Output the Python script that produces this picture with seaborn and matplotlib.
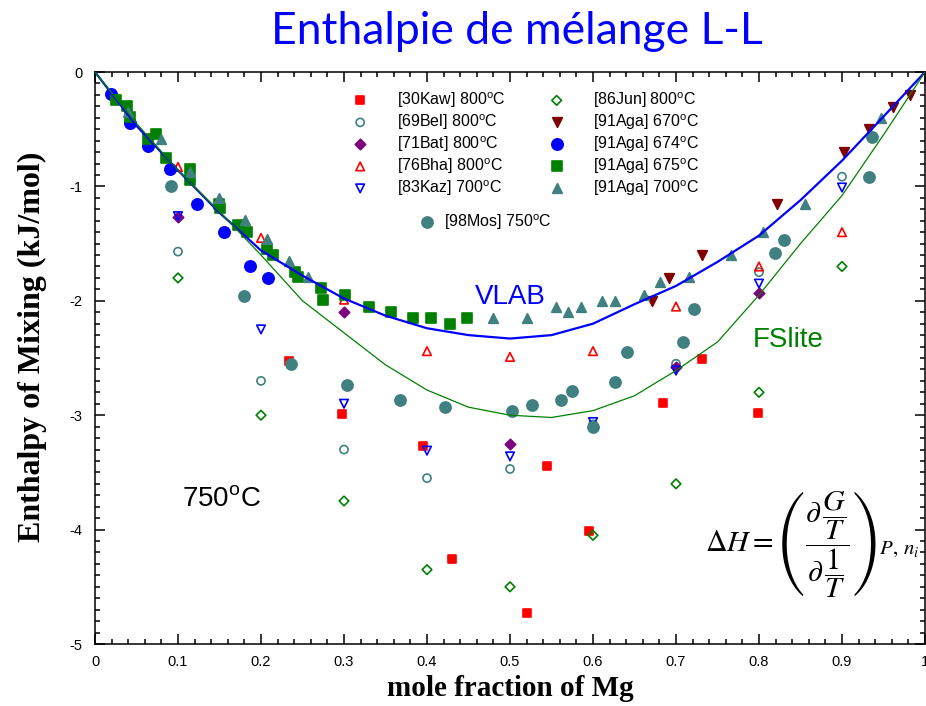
import matplotlib
matplotlib.use('Agg')
import matplotlib.pyplot as plt
import seaborn as sns
from matplotlib.ticker import MultipleLocator
from matplotlib.font_manager import FontProperties

# %% data (x = mole fraction Mg, y = kJ/mol)
kaw_x = [0.234, 0.298, 0.395, 0.43, 0.52, 0.545, 0.595, 0.684, 0.731, 0.799]
kaw_y = [-2.53, -2.99, -3.27, -4.26, -4.73, -3.44, -4.01, -2.89, -2.51, -2.98]
bel_x = [0.1, 0.2, 0.3, 0.4, 0.5, 0.6, 0.7, 0.8, 0.9]
bel_y = [-1.57, -2.70, -3.30, -3.55, -3.47, -3.08, -2.55, -1.75, -0.915]
bat_x = [0.1, 0.3, 0.5, 0.6, 0.7, 0.8]
bat_y = [-1.27, -2.10, -3.25, -3.10, -2.58, -1.93]
bha_x = [0.1, 0.2, 0.3, 0.4, 0.5, 0.6, 0.7, 0.8, 0.9]
bha_y = [-0.83, -1.45, -1.99, -2.44, -2.49, -2.44, -2.05, -1.70, -1.40]
kaz_x = [0.1, 0.2, 0.3, 0.4, 0.5, 0.6, 0.7, 0.8, 0.9]
kaz_y = [-1.26, -2.25, -2.90, -3.31, -3.36, -3.06, -2.61, -1.85, -1.01]
jun_x = [0.1, 0.2, 0.3, 0.4, 0.5, 0.6, 0.7, 0.8, 0.9]
jun_y = [-1.80, -3.0, -3.75, -4.35, -4.50, -4.05, -3.60, -2.80, -1.70]
aga670_x = [0.671, 0.691, 0.731, 0.822, 0.903, 0.932, 0.962, 0.982]
aga670_y = [-2.0, -1.80, -1.60, -1.15, -0.70, -0.50, -0.31, -0.20]
aga674_x = [0.019, 0.042, 0.064, 0.090, 0.123, 0.155, 0.187, 0.208]
aga674_y = [-0.19, -0.45, -0.65, -0.85, -1.15, -1.40, -1.70, -1.80]
aga675_x = [0.025, 0.038, 0.042, 0.064, 0.074, 0.086, 0.114, 0.114, 0.149, 0.151, 0.172, 0.183,
            0.207, 0.215, 0.241, 0.245, 0.272, 0.275, 0.301, 0.330, 0.357, 0.383, 0.405, 0.428, 0.448]
aga675_y = [-0.245, -0.30, -0.39, -0.59, -0.54, -0.75, -0.85, -0.94, -1.15, -1.19, -1.34, -1.40,
            -1.55, -1.60, -1.75, -1.79, -1.89, -1.99, -1.95, -2.05, -2.10, -2.15, -2.15, -2.20, -2.15]
aga700_x = [0.040, 0.080, 0.114, 0.149, 0.181, 0.207, 0.234, 0.257, 0.48, 0.52, 0.555, 0.570,
            0.586, 0.611, 0.626, 0.662, 0.681, 0.716, 0.766, 0.805, 0.856, 0.947]
aga700_y = [-0.35, -0.59, -0.87, -1.10, -1.29, -1.46, -1.65, -1.79, -2.15, -2.15, -2.05, -2.10,
            -2.05, -2.0, -2.0, -1.95, -1.84, -1.79, -1.60, -1.40, -1.15, -0.405]
mos_x = [0.092, 0.179, 0.236, 0.304, 0.367, 0.422, 0.502, 0.526, 0.561, 0.575, 0.600, 0.627,
         0.641, 0.708, 0.722, 0.819, 0.830, 0.932, 0.936]
mos_y = [-1.0, -1.96, -2.55, -2.74, -2.87, -2.93, -2.96, -2.91, -2.87, -2.79, -3.10, -2.71,
         -2.45, -2.36, -2.07, -1.58, -1.47, -0.915, -0.565]

# calculated curves
curve_x = [0, 0.05, 0.1, 0.15, 0.2, 0.25, 0.3, 0.35, 0.4, 0.45, 0.5, 0.55, 0.6, 0.65, 0.7,
           0.75, 0.8, 0.85, 0.9, 0.95, 1.0]
vlab_y = [0, -0.47, -0.86, -1.23, -1.56, -1.78, -1.98, -2.13, -2.24, -2.30, -2.33, -2.30, -2.20,
          -2.03, -1.87, -1.66, -1.43, -1.12, -0.775, -0.39, 0]
fslite_y = [0, -0.45, -0.86, -1.22, -1.60, -2.0, -2.28, -2.56, -2.78, -2.93, -3.0, -3.02, -2.96,
            -2.83, -2.61, -2.36, -1.95, -1.50, -1.08, -0.55, 0]

xticks = [0, 0.1, 0.2, 0.3, 0.4, 0.5, 0.6, 0.7, 0.8, 0.9, 1.0]
xtick_labels = ['0', '0.1', '0.2', '0.3', '0.4', '0.5', '0.6', '0.7', '0.8', '0.9', '1']
yticks = [-5, -4, -3, -2, -1, 0]
ytick_labels = ['-5', '-4', '-3', '-2', '-1', '0']

teal = '#408080'

# %% figure
plt.rcParams['font.family'] = ['Liberation Sans', 'DejaVu Sans']
fig = plt.figure(figsize=(9.26, 7.06), dpi=100)
ax = fig.add_axes([95 / 926, 1 - 644 / 706, 830 / 926, 572 / 706])

# (label, x, y, marker, size, face, edge)
series = [
    ('[30Kaw] 800$^{\\mathregular{o}}$C', kaw_x, kaw_y, 's', 34, 'red', 'red'),
    ('[69Bel] 800$^{\\mathregular{o}}$C', bel_x, bel_y, 'o', 34, 'none', teal),
    ('[71Bat] 800$^{\\mathregular{o}}$C', bat_x, bat_y, 'D', 28, 'purple', 'purple'),
    ('[76Bha] 800$^{\\mathregular{o}}$C', bha_x, bha_y, '^', 38, 'none', 'red'),
    ('[83Kaz] 700$^{\\mathregular{o}}$C', kaz_x, kaz_y, 'v', 38, 'none', 'blue'),
    ('[86Jun] 800$^{\\mathregular{o}}$C', jun_x, jun_y, 'D', 24, 'none', 'green'),
    ('[91Aga] 670$^{\\mathregular{o}}$C', aga670_x, aga670_y, 'v', 48, '#800000', '#800000'),
    ('[91Aga] 674$^{\\mathregular{o}}$C', aga674_x, aga674_y, 'o', 66, 'blue', 'blue'),
    ('[91Aga] 675$^{\\mathregular{o}}$C', aga675_x, aga675_y, 's', 44, 'green', 'green'),
    ('[91Aga] 700$^{\\mathregular{o}}$C', aga700_x, aga700_y, '^', 48, teal, teal),
    ('[98Mos] 750$^{\\mathregular{o}}$C', mos_x, mos_y, 'o', 64, teal, teal),
]
for lab, xs, ys, mk, sz, fc, ec in series:
    sns.scatterplot(x=xs, y=ys, marker=mk, s=sz, facecolors=fc, edgecolors=ec,
                    linewidth=1.2, label=lab, ax=ax, zorder=3)

sns.lineplot(x=curve_x, y=vlab_y, color='blue', linewidth=1.6, sort=False,
             estimator=None, legend=False, ax=ax, zorder=4)
sns.lineplot(x=curve_x, y=fslite_y, color='green', linewidth=0.9, sort=False,
             estimator=None, legend=False, ax=ax, zorder=4)

ax.set_xlim(0, 1)
ax.set_ylim(-5, 0)
ax.set_xticks(xticks)
ax.set_xticklabels(xtick_labels)
ax.set_yticks(yticks)
ax.set_yticklabels(ytick_labels)
ax.xaxis.set_minor_locator(MultipleLocator(0.02))
ax.yaxis.set_minor_locator(MultipleLocator(0.1))
ax.tick_params(which='both', direction='in', top=True, right=True, labelsize=10.5, width=1.1)
ax.tick_params(which='major', length=7)
ax.tick_params(which='minor', length=3.5)
ax.tick_params(axis='x', pad=8)
ax.tick_params(axis='y', pad=9)
for sp in ax.spines.values():
    sp.set_linewidth(1.1)

ax.set_xlabel('mole fraction of Mg', family='Liberation Serif', fontweight='bold',
              fontsize=21, labelpad=4)
ax.set_ylabel('Enthalpy of Mixing (kJ/mol)', family='Liberation Serif', fontweight='bold',
              fontsize=23)
ax.yaxis.set_label_coords(-0.058, 0.52)

# legends
handles, labels = ax.get_legend_handles_labels()
leg1 = ax.legend(handles[:10], labels[:10], ncol=2, frameon=False, fontsize=11.5,
                 loc='upper left', bbox_to_anchor=(341 / 926, 1 - 82 / 706),
                 bbox_transform=fig.transFigure, borderpad=0, handlelength=1.4,
                 handletextpad=1.6, columnspacing=2.5, labelspacing=0.15)
ax.add_artist(leg1)
ax.legend(handles[10:], labels[10:], frameon=False, fontsize=11.5, loc='upper left',
          bbox_to_anchor=(408 / 926, 1 - 204 / 706), bbox_transform=fig.transFigure,
          borderpad=0, handlelength=1.4, handletextpad=0.35)

# annotations
ax.text(0.5, -1.97, 'VLAB', color='blue', fontsize=20, ha='center', va='center')
ax.text(0.835, -2.34, 'FSlite', color='green', fontsize=20, ha='center', va='center')
ax.text(0.153, -3.74, '750$^{\\mathregular{o}}$C', color='black', fontsize=20,
        ha='center', va='center')
ax.text(0.864, -4.13, r'$\Delta H=\left(\dfrac{\partial\,\dfrac{G}{T}}{\partial\,\dfrac{1}{T}}\right)_{P,\,n_i}$',
        fontproperties=FontProperties(size=21.5, math_fontfamily='stix'),
        ha='center', va='center')

fig.text(517 / 926, 1 - 31 / 706, 'Enthalpie de mélange L-L', color='blue',
         family='Lato', fontsize=32, ha='center', va='center')

fig.savefig('out.png', dpi=100)
